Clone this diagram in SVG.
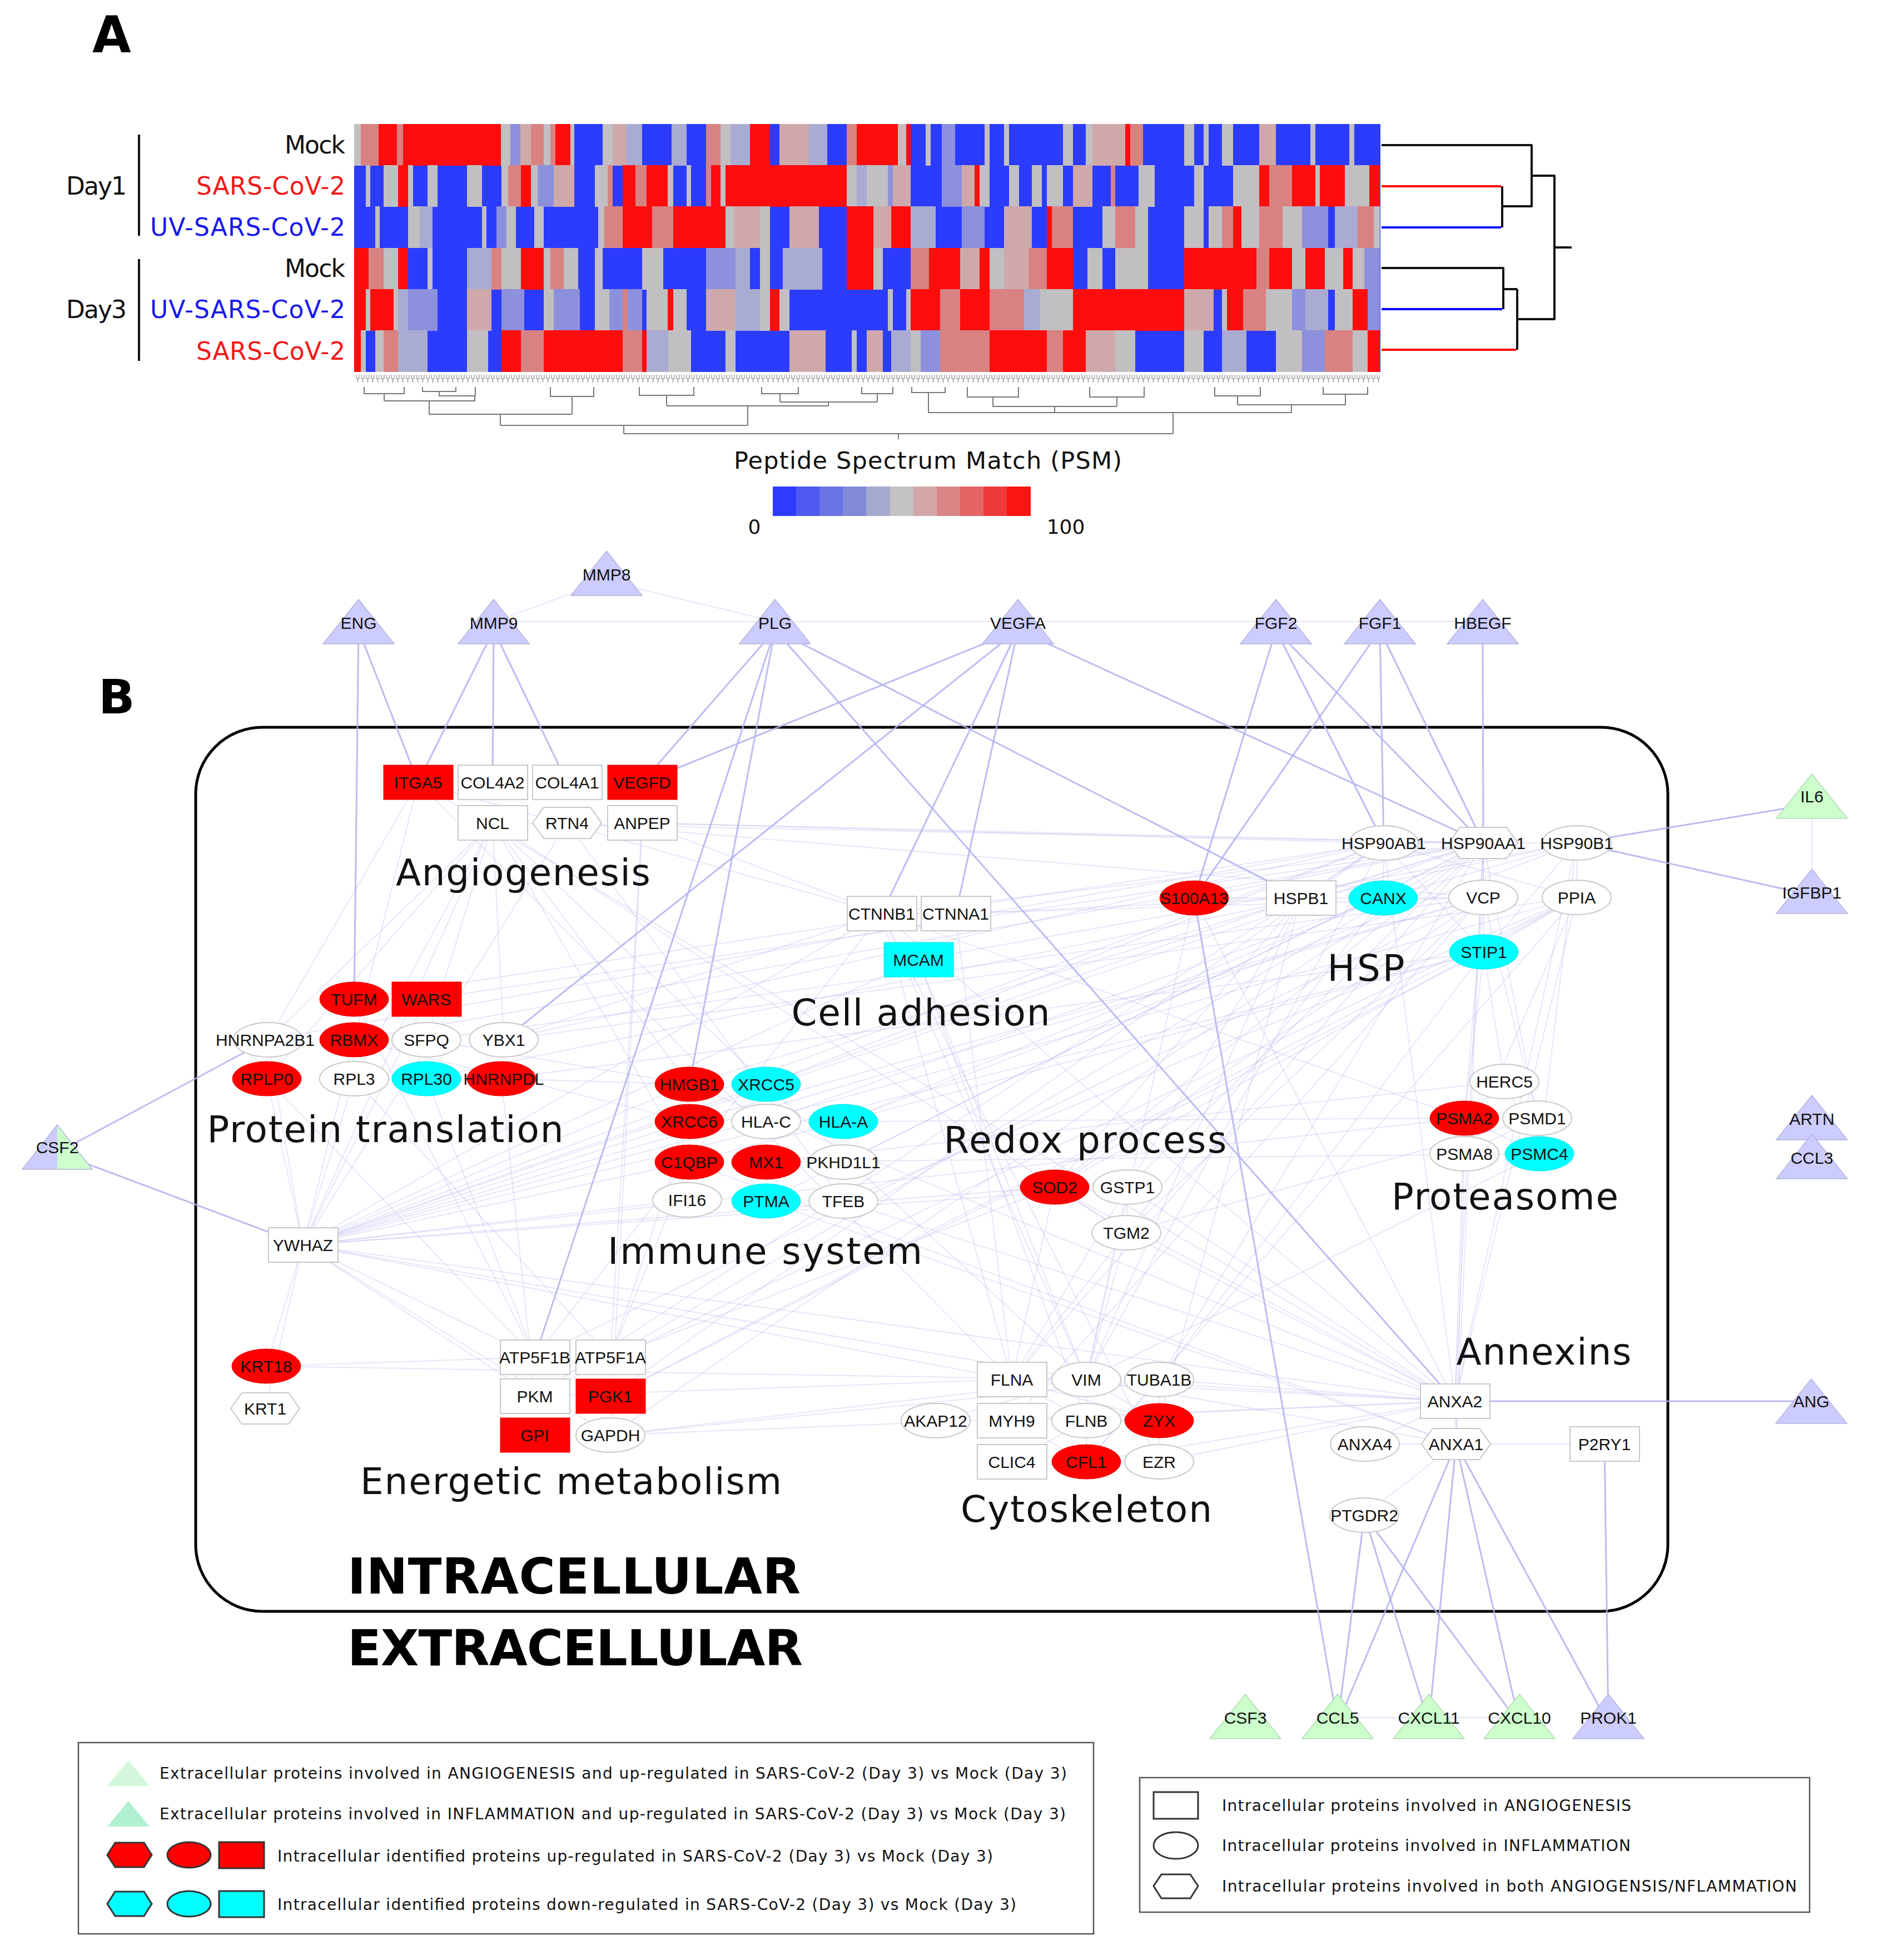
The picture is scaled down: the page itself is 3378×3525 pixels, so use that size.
<svg xmlns="http://www.w3.org/2000/svg" xmlns:xlink="http://www.w3.org/1999/xlink" width="3378" height="3525" viewBox="0 0 3378 3525">
<style>
.B{fill:#2b3cff}.R{fill:#ff0c0c}.G{fill:#c2bfc2}.lb{fill:#8d90dc}.lr{fill:#d98282}.gr{fill:#cfa9a9}.gb{fill:#a9abd2}
.s{stroke:#b0b0f0;stroke-opacity:.85;stroke-width:3;fill:none}
.f{stroke:#b8b8f0;stroke-opacity:.38;stroke-width:1.8}
.nw{fill:#fff;stroke:#c8c8c8;stroke-width:2}
.nr{fill:#f00;stroke:#e60000;stroke-width:1}
.nc{fill:#0ff;stroke:#00e6e6;stroke-width:1}
.lav{fill:#ccccff;stroke:#b4b4dc;stroke-width:1.5}
.grn{fill:#ccffcc;stroke:#b4d8b4;stroke-width:1.5}
.lbl{font-family:"Liberation Sans",Arial,sans-serif;font-size:30px;text-anchor:middle;fill:#111}
.grp{font-family:"DejaVu Sans",sans-serif;font-size:66px;text-anchor:middle;fill:#111}
.row{font-family:"DejaVu Sans",sans-serif;font-size:44px;text-anchor:end;fill:#111}
.leg{font-family:"DejaVu Sans",sans-serif;font-size:28px;fill:#111}
.big{font-family:"DejaVu Sans",sans-serif;font-weight:bold;fill:#000}
.dg{stroke:#777;stroke-width:2;fill:none}
.rd{stroke-width:4;fill:none;stroke-linejoin:round}
.ls{stroke:#333;stroke-width:3}
</style>
<defs>
<polygon id="hex" points="-62,0 -42,-28 42,-28 62,0 42,28 -42,28"/>
<polygon id="tri" points="0,-80 -64,0 64,0"/>
<pattern id="leaf" x="640" y="674" width="9" height="24" patternUnits="userSpaceOnUse">
<path d="M1 0V7H6V0M3.5 7V14" stroke="#777" stroke-width="1" fill="none"/>
</pattern>
</defs>
<rect width="3378" height="3525" fill="#fff"/>

<!-- Panel A -->
<text class="big" x="166" y="94" font-size="90">A</text>
<g id="row-labels">
<text class="row" x="621" y="276" textLength="109">Mock</text>
<text class="row" x="621" y="350" style="fill:#f01818" textLength="268">SARS-CoV-2</text>
<text class="row" x="621" y="424" style="fill:#1818f0" textLength="351">UV-SARS-CoV-2</text>
<text class="row" x="621" y="498" textLength="109">Mock</text>
<text class="row" x="621" y="572" style="fill:#1818f0" textLength="351">UV-SARS-CoV-2</text>
<text class="row" x="621" y="647" style="fill:#f01818" textLength="268">SARS-CoV-2</text>
<text class="row" x="228" y="350" textLength="109">Day1</text>
<text class="row" x="228" y="572" textLength="109">Day3</text>
<line x1="250" y1="242" x2="250" y2="424" stroke="#111" stroke-width="4"/>
<line x1="250" y1="466" x2="250" y2="649" stroke="#111" stroke-width="4"/>
</g>

<g id="heatmap" shape-rendering="crispEdges">
<rect x="637" y="223" width="1846" height="445.5" class="B"/>
<g transform="translate(637,0) scale(0.5887,1)">
<g transform="translate(0,223)">
<rect x="0" width="20" height="75" class="G"/><rect x="20" width="55" height="75" class="lr"/><rect x="75" width="55" height="75" class="R"/><rect x="130" width="20" height="75" class="lr"/><rect x="150" width="298" height="75" class="R"/><rect x="448" width="30" height="75" class="G"/><rect x="478" width="30" height="75" class="lb"/><rect x="508" width="32" height="75" class="gr"/><rect x="540" width="40" height="75" class="lr"/><rect x="580" width="20" height="75" class="G"/><rect x="600" width="15" height="75" class="lr"/><rect x="615" width="45" height="75" class="R"/><rect x="660" width="12" height="75" class="G"/><rect x="760" width="30" height="75" class="G"/><rect x="790" width="40" height="75" class="gr"/><rect x="830" width="50" height="75" class="gb"/><rect x="970" width="45" height="75" class="gb"/><rect x="1075" width="45" height="75" class="lr"/><rect x="1120" width="30" height="75" class="G"/><rect x="1150" width="60" height="75" class="gb"/><rect x="1210" width="60" height="75" class="R"/><rect x="1300" width="90" height="75" class="gr"/><rect x="1390" width="55" height="75" class="gb"/><rect x="1505" width="30" height="75" class="lr"/><rect x="1535" width="33" height="75" class="R"/>
</g>
<g transform="translate(0,297.2)">
<rect x="35" width="15" height="75" class="G"/><rect x="90" width="45" height="75" class="G"/><rect x="135" width="30" height="75" class="R"/><rect x="165" width="15" height="75" class="G"/><rect x="225" width="30" height="75" class="G"/><rect x="345" width="45" height="75" class="G"/><rect x="450" width="20" height="75" class="G"/><rect x="470" width="40" height="75" class="lr"/><rect x="510" width="30" height="75" class="R"/><rect x="540" width="20" height="75" class="G"/><rect x="560" width="50" height="75" class="lb"/><rect x="610" width="62" height="75" class="gr"/><rect x="735" width="40" height="75" class="G"/><rect x="775" width="15" height="75" class="lr"/><rect x="820" width="40" height="75" class="R"/><rect x="860" width="33" height="75" class="lr"/><rect x="893" width="65" height="75" class="R"/><rect x="958" width="17" height="75" class="G"/><rect x="1015" width="15" height="75" class="G"/><rect x="1075" width="15" height="75" class="lr"/><rect x="1090" width="30" height="75" class="R"/><rect x="1120" width="15" height="75" class="G"/><rect x="1135" width="370" height="75" class="R"/><rect x="1505" width="30" height="75" class="G"/><rect x="1535" width="33" height="75" class="gb"/>
</g>
<g transform="translate(0,371.4)">
<rect x="65" width="13" height="75" class="G"/><rect x="165" width="35" height="75" class="G"/><rect x="200" width="40" height="75" class="gb"/><rect x="390" width="15" height="75" class="G"/><rect x="435" width="30" height="75" class="lb"/><rect x="465" width="30" height="75" class="G"/><rect x="550" width="30" height="75" class="G"/><rect x="745" width="20" height="75" class="G"/><rect x="765" width="55" height="75" class="lr"/><rect x="820" width="90" height="75" class="R"/><rect x="910" width="65" height="75" class="lr"/><rect x="975" width="160" height="75" class="R"/><rect x="1135" width="25" height="75" class="G"/><rect x="1160" width="80" height="75" class="gr"/><rect x="1240" width="30" height="75" class="G"/><rect x="1330" width="90" height="75" class="gr"/><rect x="1505" width="63" height="75" class="R"/>
</g>
<g transform="translate(0,445.6)">
<rect x="0" width="45" height="75" class="R"/><rect x="45" width="45" height="75" class="lr"/><rect x="90" width="45" height="75" class="G"/><rect x="135" width="30" height="75" class="R"/><rect x="225" width="15" height="75" class="G"/><rect x="345" width="75" height="75" class="gb"/><rect x="420" width="30" height="75" class="lr"/><rect x="450" width="60" height="75" class="G"/><rect x="510" width="70" height="75" class="R"/><rect x="580" width="20" height="75" class="G"/><rect x="600" width="40" height="75" class="lr"/><rect x="640" width="45" height="75" class="G"/><rect x="735" width="25" height="75" class="G"/><rect x="880" width="65" height="75" class="G"/><rect x="1075" width="90" height="75" class="lb"/><rect x="1165" width="45" height="75" class="gb"/><rect x="1240" width="30" height="75" class="G"/><rect x="1310" width="120" height="75" class="gb"/><rect x="1505" width="63" height="75" class="R"/>
</g>
<g transform="translate(0,519.8)">
<rect x="0" width="35" height="75" class="R"/><rect x="35" width="15" height="75" class="G"/><rect x="50" width="70" height="75" class="R"/><rect x="120" width="15" height="75" class="G"/><rect x="135" width="30" height="75" class="gb"/><rect x="165" width="90" height="75" class="lb"/><rect x="345" width="75" height="75" class="gr"/><rect x="450" width="70" height="75" class="lb"/><rect x="580" width="30" height="75" class="G"/><rect x="610" width="80" height="75" class="lb"/><rect x="735" width="45" height="75" class="G"/><rect x="780" width="40" height="75" class="lb"/><rect x="820" width="15" height="75" class="lr"/><rect x="835" width="45" height="75" class="lb"/><rect x="893" width="65" height="75" class="G"/><rect x="958" width="17" height="75" class="R"/><rect x="975" width="40" height="75" class="G"/><rect x="1075" width="90" height="75" class="gr"/><rect x="1165" width="75" height="75" class="gb"/><rect x="1240" width="30" height="75" class="G"/><rect x="1270" width="30" height="75" class="R"/><rect x="1300" width="30" height="75" class="G"/>
</g>
<g transform="translate(0,594)">
<rect x="0" width="20" height="74.5" class="R"/><rect x="20" width="15" height="74.5" class="G"/><rect x="65" width="25" height="74.5" class="G"/><rect x="90" width="45" height="74.5" class="lr"/><rect x="135" width="90" height="74.5" class="gb"/><rect x="345" width="65" height="74.5" class="G"/><rect x="450" width="60" height="74.5" class="R"/><rect x="510" width="70" height="74.5" class="lr"/><rect x="580" width="240" height="74.5" class="R"/><rect x="820" width="60" height="74.5" class="lr"/><rect x="880" width="13" height="74.5" class="R"/><rect x="893" width="67" height="74.5" class="gb"/><rect x="960" width="70" height="74.5" class="G"/><rect x="1135" width="30" height="74.5" class="G"/><rect x="1330" width="110" height="74.5" class="gr"/><rect x="1520" width="15" height="74.5" class="G"/>
</g>
</g>
<g transform="translate(1559,0) scale(0.5887,1)">
<g transform="translate(0,223)">
<rect x="0" width="95" height="75" class="R"/><rect x="95" width="25" height="75" class="G"/><rect x="120" width="15" height="75" class="R"/><rect x="180" width="15" height="75" class="G"/><rect x="230" width="40" height="75" class="lb"/><rect x="360" width="15" height="75" class="G"/><rect x="420" width="15" height="75" class="G"/><rect x="600" width="30" height="75" class="G"/><rect x="670" width="20" height="75" class="G"/><rect x="690" width="100" height="75" class="gr"/><rect x="790" width="15" height="75" class="R"/><rect x="805" width="40" height="75" class="lr"/><rect x="970" width="30" height="75" class="G"/><rect x="1030" width="15" height="75" class="G"/><rect x="1085" width="35" height="75" class="G"/><rect x="1200" width="50" height="75" class="gr"/><rect x="1355" width="15" height="75" class="G"/><rect x="1475" width="15" height="75" class="G"/>
</g>
<g transform="translate(0,297.2)">
<rect x="0" width="65" height="75" class="G"/><rect x="65" width="15" height="75" class="lb"/><rect x="80" width="55" height="75" class="gr"/><rect x="230" width="60" height="75" class="lb"/><rect x="290" width="40" height="75" class="gr"/><rect x="330" width="15" height="75" class="R"/><rect x="345" width="30" height="75" class="G"/><rect x="435" width="30" height="75" class="G"/><rect x="505" width="30" height="75" class="G"/><rect x="550" width="50" height="75" class="G"/><rect x="630" width="60" height="75" class="gr"/><rect x="745" width="15" height="75" class="lr"/><rect x="830" width="50" height="75" class="G"/><rect x="1000" width="30" height="75" class="G"/><rect x="1120" width="80" height="75" class="G"/><rect x="1200" width="30" height="75" class="R"/><rect x="1230" width="70" height="75" class="lr"/><rect x="1300" width="70" height="75" class="R"/><rect x="1370" width="15" height="75" class="G"/><rect x="1385" width="75" height="75" class="R"/><rect x="1460" width="75" height="75" class="G"/><rect x="1535" width="33" height="75" class="R"/>
</g>
<g transform="translate(0,371.4)">
<rect x="0" width="20" height="75" class="R"/><rect x="20" width="55" height="75" class="gr"/><rect x="75" width="60" height="75" class="R"/><rect x="135" width="75" height="75" class="gb"/><rect x="290" width="70" height="75" class="lb"/><rect x="420" width="85" height="75" class="gr"/><rect x="550" width="15" height="75" class="R"/><rect x="565" width="65" height="75" class="lr"/><rect x="720" width="40" height="75" class="G"/><rect x="760" width="60" height="75" class="lr"/><rect x="820" width="40" height="75" class="G"/><rect x="970" width="60" height="75" class="G"/><rect x="1045" width="40" height="75" class="G"/><rect x="1085" width="35" height="75" class="lr"/><rect x="1120" width="25" height="75" class="R"/><rect x="1145" width="55" height="75" class="G"/><rect x="1200" width="70" height="75" class="lr"/><rect x="1270" width="60" height="75" class="G"/><rect x="1330" width="80" height="75" class="lb"/><rect x="1430" width="70" height="75" class="gb"/><rect x="1500" width="50" height="75" class="lr"/><rect x="1550" width="18" height="75" class="G"/>
</g>
<g transform="translate(0,445.6)">
<rect x="0" width="20" height="75" class="R"/><rect x="20" width="30" height="75" class="G"/><rect x="135" width="55" height="75" class="lr"/><rect x="190" width="95" height="75" class="R"/><rect x="285" width="60" height="75" class="gr"/><rect x="345" width="30" height="75" class="R"/><rect x="375" width="45" height="75" class="G"/><rect x="420" width="75" height="75" class="gr"/><rect x="495" width="55" height="75" class="lr"/><rect x="550" width="80" height="75" class="R"/><rect x="675" width="45" height="75" class="G"/><rect x="760" width="100" height="75" class="G"/><rect x="970" width="220" height="75" class="R"/><rect x="1190" width="40" height="75" class="lr"/><rect x="1230" width="70" height="75" class="R"/><rect x="1300" width="40" height="75" class="G"/><rect x="1340" width="60" height="75" class="R"/><rect x="1400" width="55" height="75" class="G"/><rect x="1455" width="30" height="75" class="R"/><rect x="1485" width="35" height="75" class="G"/><rect x="1520" width="48" height="75" class="lb"/>
</g>
<g transform="translate(0,519.8)">
<rect x="65" width="15" height="75" class="G"/><rect x="120" width="15" height="75" class="G"/><rect x="135" width="90" height="75" class="R"/><rect x="225" width="60" height="75" class="lr"/><rect x="285" width="90" height="75" class="R"/><rect x="375" width="105" height="75" class="lr"/><rect x="480" width="50" height="75" class="gb"/><rect x="530" width="100" height="75" class="G"/><rect x="630" width="340" height="75" class="R"/><rect x="970" width="90" height="75" class="gr"/><rect x="1085" width="15" height="75" class="G"/><rect x="1100" width="50" height="75" class="R"/><rect x="1150" width="70" height="75" class="lr"/><rect x="1220" width="80" height="75" class="G"/><rect x="1300" width="40" height="75" class="lb"/><rect x="1340" width="70" height="75" class="gb"/><rect x="1430" width="55" height="75" class="G"/><rect x="1485" width="45" height="75" class="R"/><rect x="1530" width="38" height="75" class="lb"/>
</g>
<g transform="translate(0,594)">
<rect x="0" width="50" height="74.5" class="gr"/><rect x="75" width="60" height="74.5" class="gb"/><rect x="135" width="30" height="74.5" class="G"/><rect x="165" width="60" height="74.5" class="lb"/><rect x="225" width="150" height="74.5" class="lr"/><rect x="375" width="175" height="74.5" class="R"/><rect x="550" width="50" height="74.5" class="lr"/><rect x="600" width="70" height="74.5" class="R"/><rect x="670" width="90" height="74.5" class="gr"/><rect x="760" width="60" height="74.5" class="G"/><rect x="970" width="60" height="74.5" class="G"/><rect x="1085" width="75" height="74.5" class="gb"/><rect x="1250" width="80" height="74.5" class="G"/><rect x="1330" width="70" height="74.5" class="lb"/><rect x="1400" width="85" height="74.5" class="lr"/><rect x="1485" width="45" height="74.5" class="G"/><rect x="1530" width="38" height="74.5" class="R"/>
</g>
</g>
</g>

<g id="row-dendrogram">
<path class="rd" stroke="#111" d="M2485 261H2755V371H2702M2702 335V409M2755 316H2796V574H2729M2729 520V629M2704 520H2729M2485 482H2704V556M2796 445H2827"/>
<path class="rd" stroke="#f00" d="M2485 335H2700M2485 629H2727"/>
<path class="rd" stroke="#00f" d="M2485 409H2700M2485 556H2702"/>
</g>

<g id="column-dendrogram">
<rect x="640" y="674" width="1842" height="22" fill="url(#leaf)"/>
<path class="dg" d="M655 696V708H727V696M691 708V721M760 696V704H820V696M855 696V702M790 704V712H855V702M691 721H854V712M772 721V745M990 696V713H1068V696M1029 713V745M772 745H1029M900 745V765M1150 696V711H1248V696M1199 711V730M1370 696V708H1436V696M1403 708V723M1550 696V708H1606V696M1578 708V723M1403 723H1578M1490 723V730M1199 730H1490M1345 730V765M900 765H1345M1122 765V780M1740 696V714H1832V696M1960 696V714H2058V696M1786 714V731M2009 714V731M1786 731H2009M1897 731V742M2185 696V712H2267V696M2380 696V709H2460V696M2226 712V728M2420 709V728M2226 728H2420M2323 728V742M1897 742H2323M2110 742V780M1122 780H2110M1616 780V790M1640 696V706H1700V696M1670 706V742H1897"/>
</g>

<g id="colorbar">
<text x="1669" y="843" font-family="DejaVu Sans,sans-serif" font-size="43" text-anchor="middle" fill="#111" textLength="698">Peptide Spectrum Match (PSM)</text>
<rect x="1390" y="875" width="43" height="53" fill="#2e3cff"/>
<rect x="1432" y="875" width="43" height="53" fill="#4e5af0"/>
<rect x="1474" y="875" width="43" height="53" fill="#6a74e4"/>
<rect x="1516" y="875" width="43" height="53" fill="#8389d9"/>
<rect x="1558" y="875" width="43" height="53" fill="#a5a9d0"/>
<rect x="1601" y="875" width="43" height="53" fill="#c4c2c4"/>
<rect x="1643" y="875" width="43" height="53" fill="#d2a6a6"/>
<rect x="1685" y="875" width="43" height="53" fill="#da8686"/>
<rect x="1727" y="875" width="43" height="53" fill="#e46464"/>
<rect x="1769" y="875" width="43" height="53" fill="#ee3a3a"/>
<rect x="1811" y="875" width="43" height="53" fill="#fc1414"/>
<text x="1357" y="960" font-family="DejaVu Sans,sans-serif" font-size="36" text-anchor="middle" fill="#111">0</text>
<text x="1917" y="960" font-family="DejaVu Sans,sans-serif" font-size="36" text-anchor="middle" fill="#111">100</text>
</g>

<!-- Panel B -->
<text class="big" x="177" y="1283" font-size="86">B</text>
<rect id="cell-membrane" x="352" y="1308" width="2648" height="1590" rx="120" ry="120" fill="none" stroke="#000" stroke-width="5"/>

<g id="connectors">
<g id="faint-edges" class="f">
<line x1="888" y1="1118" x2="2667" y2="1118"/>
<line x1="1091" y1="1045" x2="888" y2="1118"/>
<line x1="1091" y1="1045" x2="1394" y2="1118"/>
<line x1="3259" y1="1471" x2="3259" y2="1562"/>
<line x1="2406" y1="3089" x2="2733" y2="3089"/>
<line x1="886" y1="1480" x2="637" y2="1940"/>
<line x1="886" y1="1480" x2="480" y2="1940"/>
<line x1="886" y1="1480" x2="482" y2="1870"/>
<line x1="886" y1="1480" x2="906" y2="1870"/>
<line x1="886" y1="1480" x2="767" y2="1870"/>
<line x1="886" y1="1480" x2="1240" y2="1950"/>
<line x1="886" y1="1480" x2="1378" y2="1950"/>
<line x1="886" y1="1480" x2="1240" y2="2090"/>
<line x1="886" y1="1480" x2="2668" y2="1516"/>
<line x1="886" y1="1480" x2="545" y2="2239"/>
<line x1="886" y1="1480" x2="2026" y2="2217"/>
<line x1="752" y1="1407" x2="545" y2="2239"/>
<line x1="752" y1="1407" x2="1820" y2="2481"/>
<line x1="752" y1="1407" x2="1586" y2="1643"/>
<line x1="752" y1="1407" x2="2617" y2="2520"/>
<line x1="752" y1="1407" x2="482" y2="1870"/>
<line x1="1155" y1="1480" x2="2668" y2="1516"/>
<line x1="1155" y1="1480" x2="1586" y2="1643"/>
<line x1="1155" y1="1480" x2="1098" y2="2441"/>
<line x1="1155" y1="1480" x2="1098" y2="2581"/>
<line x1="1155" y1="1480" x2="2489" y2="1516"/>
<line x1="1020" y1="1480" x2="545" y2="2239"/>
<line x1="1020" y1="1480" x2="1517" y2="2160"/>
<line x1="1020" y1="1480" x2="2668" y2="1614"/>
<line x1="482" y1="1870" x2="2489" y2="1516"/>
<line x1="637" y1="1870" x2="2668" y2="1516"/>
<line x1="767" y1="1870" x2="2668" y2="1614"/>
<line x1="906" y1="1870" x2="2489" y2="1516"/>
<line x1="906" y1="1870" x2="1586" y2="1643"/>
<line x1="906" y1="1870" x2="2836" y2="1614"/>
<line x1="637" y1="1940" x2="545" y2="2239"/>
<line x1="480" y1="1940" x2="545" y2="2239"/>
<line x1="767" y1="1940" x2="962" y2="2441"/>
<line x1="902" y1="1940" x2="1240" y2="1950"/>
<line x1="637" y1="1797" x2="962" y2="2441"/>
<line x1="767" y1="1797" x2="545" y2="2239"/>
<line x1="767" y1="1797" x2="2668" y2="1516"/>
<line x1="637" y1="1940" x2="1098" y2="2441"/>
<line x1="480" y1="1940" x2="962" y2="2441"/>
<line x1="482" y1="1870" x2="545" y2="2239"/>
<line x1="767" y1="1870" x2="1240" y2="1950"/>
<line x1="637" y1="1870" x2="1240" y2="2017"/>
<line x1="902" y1="1940" x2="962" y2="2511"/>
<line x1="637" y1="1797" x2="2489" y2="1516"/>
<line x1="767" y1="1940" x2="2836" y2="1516"/>
<line x1="902" y1="1940" x2="2669" y2="1712"/>
<line x1="545" y1="2239" x2="479" y2="2457"/>
<line x1="545" y1="2239" x2="477" y2="2533"/>
<line x1="545" y1="2239" x2="962" y2="2441"/>
<line x1="545" y1="2239" x2="962" y2="2511"/>
<line x1="545" y1="2239" x2="1098" y2="2581"/>
<line x1="545" y1="2239" x2="1240" y2="1950"/>
<line x1="545" y1="2239" x2="1240" y2="2017"/>
<line x1="545" y1="2239" x2="1586" y2="1643"/>
<line x1="545" y1="2239" x2="2489" y2="1516"/>
<line x1="545" y1="2239" x2="2668" y2="1516"/>
<line x1="545" y1="2239" x2="2668" y2="1614"/>
<line x1="545" y1="2239" x2="2669" y2="1712"/>
<line x1="545" y1="2239" x2="1820" y2="2481"/>
<line x1="545" y1="2239" x2="1954" y2="2481"/>
<line x1="545" y1="2239" x2="1897" y2="2135"/>
<line x1="545" y1="2239" x2="2617" y2="2520"/>
<line x1="545" y1="2239" x2="2634" y2="2011"/>
<line x1="545" y1="2239" x2="1652" y2="1726"/>
<line x1="545" y1="2239" x2="2340" y2="1615"/>
<line x1="545" y1="2239" x2="2836" y2="1614"/>
<line x1="545" y1="2239" x2="2028" y2="2135"/>
<line x1="545" y1="2239" x2="1240" y2="2090"/>
<line x1="545" y1="2239" x2="1236" y2="2158"/>
<line x1="479" y1="2457" x2="1954" y2="2481"/>
<line x1="479" y1="2457" x2="962" y2="2441"/>
<line x1="1098" y1="2441" x2="2668" y2="1516"/>
<line x1="962" y1="2441" x2="2668" y2="1614"/>
<line x1="962" y1="2511" x2="2489" y2="1516"/>
<line x1="962" y1="2511" x2="2836" y2="1614"/>
<line x1="1098" y1="2581" x2="2668" y2="1516"/>
<line x1="1098" y1="2581" x2="1954" y2="2481"/>
<line x1="1098" y1="2581" x2="2617" y2="2520"/>
<line x1="1098" y1="2511" x2="2836" y2="1614"/>
<line x1="962" y1="2581" x2="2669" y2="1712"/>
<line x1="1098" y1="2511" x2="2489" y2="1516"/>
<line x1="1098" y1="2441" x2="1897" y2="2135"/>
<line x1="962" y1="2511" x2="1820" y2="2481"/>
<line x1="1098" y1="2581" x2="2085" y2="2481"/>
<line x1="962" y1="2441" x2="1586" y2="1643"/>
<line x1="1240" y1="1950" x2="2668" y2="1516"/>
<line x1="1378" y1="1950" x2="2489" y2="1516"/>
<line x1="1240" y1="2017" x2="2668" y2="1614"/>
<line x1="1517" y1="2017" x2="2488" y2="1615"/>
<line x1="1378" y1="2017" x2="2488" y2="1615"/>
<line x1="1517" y1="2017" x2="2836" y2="1516"/>
<line x1="1240" y1="2090" x2="2669" y2="1712"/>
<line x1="1378" y1="2090" x2="2706" y2="1945"/>
<line x1="1378" y1="2160" x2="2668" y2="1516"/>
<line x1="1517" y1="2160" x2="2836" y2="1614"/>
<line x1="1517" y1="2017" x2="2634" y2="2011"/>
<line x1="1378" y1="1950" x2="1954" y2="2481"/>
<line x1="1240" y1="1950" x2="2617" y2="2520"/>
<line x1="1240" y1="2090" x2="2619" y2="2597"/>
<line x1="1378" y1="2160" x2="2619" y2="2597"/>
<line x1="1378" y1="2090" x2="2769" y2="2075"/>
<line x1="1240" y1="2017" x2="1098" y2="2441"/>
<line x1="1240" y1="2090" x2="1098" y2="2441"/>
<line x1="1517" y1="2090" x2="2668" y2="1516"/>
<line x1="1517" y1="2160" x2="2617" y2="2520"/>
<line x1="1586" y1="1643" x2="2668" y2="1516"/>
<line x1="1586" y1="1643" x2="1954" y2="2481"/>
<line x1="1586" y1="1643" x2="1820" y2="2481"/>
<line x1="1719" y1="1643" x2="1820" y2="2481"/>
<line x1="1719" y1="1643" x2="2340" y2="1615"/>
<line x1="1586" y1="1643" x2="2617" y2="2520"/>
<line x1="1652" y1="1726" x2="1954" y2="2481"/>
<line x1="1652" y1="1726" x2="2836" y2="1516"/>
<line x1="1719" y1="1643" x2="2668" y2="1614"/>
<line x1="1652" y1="1726" x2="1954" y2="2555"/>
<line x1="1586" y1="1643" x2="2085" y2="2629"/>
<line x1="1586" y1="1643" x2="2634" y2="2011"/>
<line x1="2489" y1="1516" x2="2668" y2="1516"/>
<line x1="2668" y1="1516" x2="2836" y2="1516"/>
<line x1="2489" y1="1516" x2="2488" y2="1615"/>
<line x1="2668" y1="1516" x2="2668" y2="1614"/>
<line x1="2836" y1="1516" x2="2836" y2="1614"/>
<line x1="2668" y1="1516" x2="2669" y2="1712"/>
<line x1="2489" y1="1516" x2="2669" y2="1712"/>
<line x1="2836" y1="1516" x2="2669" y2="1712"/>
<line x1="2836" y1="1614" x2="2669" y2="1712"/>
<line x1="2340" y1="1615" x2="2668" y2="1516"/>
<line x1="2340" y1="1615" x2="2668" y2="1614"/>
<line x1="2488" y1="1615" x2="2836" y2="1516"/>
<line x1="2148" y1="1615" x2="2340" y2="1615"/>
<line x1="2489" y1="1516" x2="2340" y2="1615"/>
<line x1="2148" y1="1615" x2="2668" y2="1516"/>
<line x1="2668" y1="1614" x2="2634" y2="2011"/>
<line x1="2668" y1="1614" x2="2765" y2="2011"/>
<line x1="2669" y1="1712" x2="2706" y2="1945"/>
<line x1="2669" y1="1712" x2="2634" y2="2011"/>
<line x1="2668" y1="1516" x2="2765" y2="2011"/>
<line x1="2836" y1="1614" x2="2634" y2="2075"/>
<line x1="2836" y1="1516" x2="2769" y2="2075"/>
<line x1="2668" y1="1516" x2="2617" y2="2520"/>
<line x1="2489" y1="1516" x2="2617" y2="2520"/>
<line x1="2668" y1="1516" x2="2619" y2="2597"/>
<line x1="2489" y1="1516" x2="1954" y2="2481"/>
<line x1="2668" y1="1516" x2="1820" y2="2481"/>
<line x1="2668" y1="1516" x2="2085" y2="2481"/>
<line x1="2668" y1="1516" x2="1897" y2="2135"/>
<line x1="2668" y1="1516" x2="2028" y2="2135"/>
<line x1="2668" y1="1614" x2="1897" y2="2135"/>
<line x1="2836" y1="1614" x2="1897" y2="2135"/>
<line x1="2668" y1="1614" x2="2026" y2="2217"/>
<line x1="2836" y1="1516" x2="2617" y2="2520"/>
<line x1="2836" y1="1614" x2="2617" y2="2520"/>
<line x1="2669" y1="1712" x2="2085" y2="2481"/>
<line x1="2340" y1="1615" x2="1820" y2="2481"/>
<line x1="2340" y1="1615" x2="1954" y2="2481"/>
<line x1="2340" y1="1615" x2="1897" y2="2135"/>
<line x1="2488" y1="1615" x2="2026" y2="2217"/>
<line x1="2668" y1="1614" x2="1820" y2="2555"/>
<line x1="2836" y1="1614" x2="1954" y2="2629"/>
<line x1="2340" y1="1615" x2="2085" y2="2555"/>
<line x1="2148" y1="1615" x2="2617" y2="2520"/>
<line x1="2148" y1="1615" x2="1954" y2="2481"/>
<line x1="2489" y1="1516" x2="2836" y2="1614"/>
<line x1="2706" y1="1945" x2="2634" y2="2011"/>
<line x1="2706" y1="1945" x2="2769" y2="2075"/>
<line x1="2634" y1="2011" x2="2769" y2="2075"/>
<line x1="2765" y1="2011" x2="2634" y2="2075"/>
<line x1="2634" y1="2011" x2="2617" y2="2520"/>
<line x1="2769" y1="2075" x2="1954" y2="2481"/>
<line x1="2765" y1="2011" x2="2026" y2="2217"/>
<line x1="2634" y1="2075" x2="2619" y2="2597"/>
<line x1="2028" y1="2135" x2="2026" y2="2217"/>
<line x1="1897" y1="2135" x2="2026" y2="2217"/>
<line x1="2028" y1="2135" x2="1954" y2="2481"/>
<line x1="2026" y1="2217" x2="1954" y2="2481"/>
<line x1="2026" y1="2217" x2="1820" y2="2481"/>
<line x1="1897" y1="2135" x2="2617" y2="2520"/>
<line x1="2028" y1="2135" x2="2617" y2="2520"/>
<line x1="2026" y1="2217" x2="2617" y2="2520"/>
<line x1="1897" y1="2135" x2="1820" y2="2481"/>
<line x1="1820" y1="2481" x2="1954" y2="2555"/>
<line x1="1820" y1="2481" x2="2085" y2="2555"/>
<line x1="1954" y1="2481" x2="1954" y2="2629"/>
<line x1="1820" y1="2555" x2="1954" y2="2629"/>
<line x1="2085" y1="2481" x2="1954" y2="2629"/>
<line x1="2085" y1="2629" x2="2617" y2="2520"/>
<line x1="1954" y1="2481" x2="2617" y2="2520"/>
<line x1="1820" y1="2555" x2="2617" y2="2520"/>
<line x1="1820" y1="2481" x2="2617" y2="2520"/>
<line x1="1954" y1="2629" x2="2617" y2="2520"/>
<line x1="2085" y1="2481" x2="2617" y2="2520"/>
<line x1="1954" y1="2481" x2="2619" y2="2597"/>
<line x1="1683" y1="2555" x2="1954" y2="2481"/>
<line x1="2085" y1="2481" x2="2085" y2="2629"/>
<line x1="1820" y1="2629" x2="1954" y2="2555"/>
<line x1="1954" y1="2481" x2="2085" y2="2555"/>
<line x1="2617" y1="2520" x2="2619" y2="2597"/>
<line x1="2455" y1="2597" x2="2619" y2="2597"/>
<line x1="2619" y1="2597" x2="2886" y2="2597"/>
<line x1="2619" y1="2597" x2="2454" y2="2725"/>
<line x1="2455" y1="2597" x2="2617" y2="2520"/>
</g>
<g id="strong-edges" class="s">
<line x1="645" y1="1133" x2="637" y2="1797"/>
<line x1="645" y1="1133" x2="752" y2="1407"/>
<line x1="888" y1="1133" x2="752" y2="1407"/>
<line x1="888" y1="1133" x2="886" y2="1407"/>
<line x1="888" y1="1133" x2="1020" y2="1407"/>
<line x1="1394" y1="1133" x2="1155" y2="1407"/>
<line x1="1394" y1="1133" x2="1240" y2="1950"/>
<line x1="1394" y1="1133" x2="962" y2="2441"/>
<line x1="1394" y1="1133" x2="2617" y2="2520"/>
<line x1="1394" y1="1133" x2="2340" y2="1615"/>
<line x1="1831" y1="1133" x2="1155" y2="1407"/>
<line x1="1831" y1="1133" x2="906" y2="1870"/>
<line x1="1831" y1="1133" x2="1586" y2="1643"/>
<line x1="1831" y1="1133" x2="1719" y2="1643"/>
<line x1="1831" y1="1133" x2="2668" y2="1516"/>
<line x1="2295" y1="1133" x2="2148" y2="1615"/>
<line x1="2295" y1="1133" x2="2489" y2="1516"/>
<line x1="2295" y1="1133" x2="2668" y2="1516"/>
<line x1="2482" y1="1133" x2="2148" y2="1615"/>
<line x1="2482" y1="1133" x2="2489" y2="1516"/>
<line x1="2482" y1="1133" x2="2668" y2="1516"/>
<line x1="2667" y1="1133" x2="2668" y2="1516"/>
<line x1="3259" y1="1446" x2="2836" y2="1516"/>
<line x1="3259" y1="1610" x2="2836" y2="1516"/>
<line x1="103" y1="2073" x2="482" y2="1870"/>
<line x1="103" y1="2073" x2="545" y2="2239"/>
<line x1="3258" y1="2520" x2="2617" y2="2520"/>
<line x1="2148" y1="1615" x2="2406" y2="3100"/>
<line x1="2619" y1="2597" x2="2406" y2="3100"/>
<line x1="2619" y1="2597" x2="2570" y2="3100"/>
<line x1="2619" y1="2597" x2="2733" y2="3100"/>
<line x1="2619" y1="2597" x2="2893" y2="3100"/>
<line x1="2454" y1="2725" x2="2406" y2="3100"/>
<line x1="2454" y1="2725" x2="2570" y2="3100"/>
<line x1="2454" y1="2725" x2="2733" y2="3100"/>
<line x1="2886" y1="2597" x2="2893" y2="3100"/>
</g>
</g>

<g id="nodes">
<g id="n-MMP8"><use href="#tri" x="1091" y="1071" class="lav"/><text class="lbl" x="1091" y="1044">MMP8</text></g>
<g id="n-ENG"><use href="#tri" x="645" y="1158" class="lav"/><text class="lbl" x="645" y="1131">ENG</text></g>
<g id="n-MMP9"><use href="#tri" x="888" y="1158" class="lav"/><text class="lbl" x="888" y="1131">MMP9</text></g>
<g id="n-PLG"><use href="#tri" x="1394" y="1158" class="lav"/><text class="lbl" x="1394" y="1131">PLG</text></g>
<g id="n-VEGFA"><use href="#tri" x="1831" y="1158" class="lav"/><text class="lbl" x="1831" y="1131">VEGFA</text></g>
<g id="n-FGF2"><use href="#tri" x="2295" y="1158" class="lav"/><text class="lbl" x="2295" y="1131">FGF2</text></g>
<g id="n-FGF1"><use href="#tri" x="2482" y="1158" class="lav"/><text class="lbl" x="2482" y="1131">FGF1</text></g>
<g id="n-HBEGF"><use href="#tri" x="2667" y="1158" class="lav"/><text class="lbl" x="2667" y="1131">HBEGF</text></g>
<g id="n-IL6"><use href="#tri" x="3259" y="1472" class="grn"/><text class="lbl" x="3259" y="1443">IL6</text></g>
<g id="n-IGFBP1"><use href="#tri" x="3259" y="1643" class="lav"/><text class="lbl" x="3259" y="1616">IGFBP1</text></g>
<g id="n-ARTN"><use href="#tri" x="3259" y="2050" class="lav"/><text class="lbl" x="3259" y="2023">ARTN</text></g>
<g id="n-CCL3"><use href="#tri" x="3259" y="2120" class="lav"/><text class="lbl" x="3259" y="2093">CCL3</text></g>
<g id="n-ANG"><use href="#tri" x="3258" y="2560" class="lav"/><text class="lbl" x="3258" y="2531">ANG</text></g>
<g id="n-CSF2"><polygon points="103,2023 40,2103 103,2103" fill="#ccccff"/><polygon points="103,2023 166,2103 103,2103" fill="#ccffcc"/><polygon points="103,2023 40,2103 166,2103" fill="none" stroke="#b4b4dc" stroke-width="1.5"/><text class="lbl" x="103" y="2074">CSF2</text></g>
<g id="n-CSF3"><use href="#tri" x="2240" y="3127" class="grn"/><text class="lbl" x="2240" y="3100">CSF3</text></g>
<g id="n-CCL5"><use href="#tri" x="2406" y="3127" class="grn"/><text class="lbl" x="2406" y="3100">CCL5</text></g>
<g id="n-CXCL11"><use href="#tri" x="2570" y="3127" class="grn"/><text class="lbl" x="2570" y="3100">CXCL11</text></g>
<g id="n-CXCL10"><use href="#tri" x="2733" y="3127" class="grn"/><text class="lbl" x="2733" y="3100">CXCL10</text></g>
<g id="n-PROK1"><use href="#tri" x="2893" y="3127" class="lav"/><text class="lbl" x="2893" y="3100">PROK1</text></g>

<g id="n-ITGA5"><rect x="690" y="1376" width="125" height="62" class="nr"/><text class="lbl" x="752" y="1418">ITGA5</text></g>
<g id="n-COL4A2"><rect x="824" y="1376" width="125" height="62" class="nw"/><text class="lbl" x="886" y="1418">COL4A2</text></g>
<g id="n-COL4A1"><rect x="958" y="1376" width="125" height="62" class="nw"/><text class="lbl" x="1020" y="1418">COL4A1</text></g>
<g id="n-VEGFD"><rect x="1093" y="1376" width="125" height="62" class="nr"/><text class="lbl" x="1155" y="1418">VEGFD</text></g>
<g id="n-NCL"><rect x="824" y="1449" width="125" height="62" class="nw"/><text class="lbl" x="886" y="1491">NCL</text></g>
<g id="n-RTN4"><use href="#hex" x="1020" y="1480" class="nw"/><text class="lbl" x="1020" y="1491">RTN4</text></g>
<g id="n-ANPEP"><rect x="1093" y="1449" width="125" height="62" class="nw"/><text class="lbl" x="1155" y="1491">ANPEP</text></g>

<g id="n-TUFM"><ellipse cx="637" cy="1797" rx="62" ry="31" class="nr"/><text class="lbl" x="637" y="1808">TUFM</text></g>
<g id="n-WARS"><rect x="705" y="1766" width="125" height="62" class="nr"/><text class="lbl" x="767" y="1808">WARS</text></g>
<g id="n-HNRNPA2B1"><ellipse cx="482" cy="1870" rx="62" ry="31" class="nw"/><text class="lbl" x="477" y="1881">HNRNPA2B1</text></g>
<g id="n-RBMX"><ellipse cx="637" cy="1870" rx="62" ry="31" class="nr"/><text class="lbl" x="637" y="1881">RBMX</text></g>
<g id="n-SFPQ"><ellipse cx="767" cy="1870" rx="62" ry="31" class="nw"/><text class="lbl" x="767" y="1881">SFPQ</text></g>
<g id="n-YBX1"><ellipse cx="906" cy="1870" rx="62" ry="31" class="nw"/><text class="lbl" x="906" y="1881">YBX1</text></g>
<g id="n-RPLP0"><ellipse cx="480" cy="1940" rx="62" ry="31" class="nr"/><text class="lbl" x="480" y="1951">RPLP0</text></g>
<g id="n-RPL3"><ellipse cx="637" cy="1940" rx="62" ry="31" class="nw"/><text class="lbl" x="637" y="1951">RPL3</text></g>
<g id="n-RPL30"><ellipse cx="767" cy="1940" rx="62" ry="31" class="nc"/><text class="lbl" x="767" y="1951">RPL30</text></g>
<g id="n-HNRNPDL"><ellipse cx="902" cy="1940" rx="62" ry="31" class="nr"/><text class="lbl" x="906" y="1951">HNRNPDL</text></g>
<g id="n-YWHAZ"><rect x="483" y="2208" width="125" height="62" class="nw"/><text class="lbl" x="545" y="2250">YWHAZ</text></g>
<g id="n-KRT18"><ellipse cx="479" cy="2457" rx="62" ry="31" class="nr"/><text class="lbl" x="479" y="2468">KRT18</text></g>
<g id="n-KRT1"><use href="#hex" x="477" y="2533" class="nw"/><text class="lbl" x="477" y="2544">KRT1</text></g>

<g id="n-ATP5F1B"><rect x="900" y="2410" width="125" height="62" class="nw"/><text class="lbl" x="962" y="2452">ATP5F1B</text></g>
<g id="n-ATP5F1A"><rect x="1036" y="2410" width="125" height="62" class="nw"/><text class="lbl" x="1098" y="2452">ATP5F1A</text></g>
<g id="n-PKM"><rect x="900" y="2480" width="125" height="62" class="nw"/><text class="lbl" x="962" y="2522">PKM</text></g>
<g id="n-PGK1"><rect x="1036" y="2480" width="125" height="62" class="nr"/><text class="lbl" x="1098" y="2522">PGK1</text></g>
<g id="n-GPI"><rect x="900" y="2550" width="125" height="62" class="nr"/><text class="lbl" x="962" y="2592">GPI</text></g>
<g id="n-GAPDH"><ellipse cx="1098" cy="2581" rx="62" ry="31" class="nw"/><text class="lbl" x="1098" y="2592">GAPDH</text></g>

<g id="n-HMGB1"><ellipse cx="1240" cy="1950" rx="62" ry="31" class="nr"/><text class="lbl" x="1240" y="1961">HMGB1</text></g>
<g id="n-XRCC5"><ellipse cx="1378" cy="1950" rx="62" ry="31" class="nc"/><text class="lbl" x="1378" y="1961">XRCC5</text></g>
<g id="n-XRCC6"><ellipse cx="1240" cy="2017" rx="62" ry="31" class="nr"/><text class="lbl" x="1240" y="2028">XRCC6</text></g>
<g id="n-HLA-C"><ellipse cx="1378" cy="2017" rx="62" ry="31" class="nw"/><text class="lbl" x="1378" y="2028">HLA-C</text></g>
<g id="n-HLA-A"><ellipse cx="1517" cy="2017" rx="62" ry="31" class="nc"/><text class="lbl" x="1517" y="2028">HLA-A</text></g>
<g id="n-C1QBP"><ellipse cx="1240" cy="2090" rx="62" ry="31" class="nr"/><text class="lbl" x="1240" y="2101">C1QBP</text></g>
<g id="n-MX1"><ellipse cx="1378" cy="2090" rx="62" ry="31" class="nr"/><text class="lbl" x="1378" y="2101">MX1</text></g>
<g id="n-PKHD1L1"><ellipse cx="1517" cy="2090" rx="62" ry="31" class="nw"/><text class="lbl" x="1517" y="2101">PKHD1L1</text></g>
<g id="n-IFI16"><ellipse cx="1236" cy="2158" rx="62" ry="31" class="nw"/><text class="lbl" x="1236" y="2169">IFI16</text></g>
<g id="n-PTMA"><ellipse cx="1378" cy="2160" rx="62" ry="31" class="nc"/><text class="lbl" x="1378" y="2171">PTMA</text></g>
<g id="n-TFEB"><ellipse cx="1517" cy="2160" rx="62" ry="31" class="nw"/><text class="lbl" x="1517" y="2171">TFEB</text></g>

<g id="n-CTNNB1"><rect x="1524" y="1612" width="125" height="62" class="nw"/><text class="lbl" x="1586" y="1654">CTNNB1</text></g>
<g id="n-CTNNA1"><rect x="1657" y="1612" width="125" height="62" class="nw"/><text class="lbl" x="1719" y="1654">CTNNA1</text></g>
<g id="n-MCAM"><rect x="1590" y="1695" width="125" height="62" class="nc"/><text class="lbl" x="1652" y="1737">MCAM</text></g>

<g id="n-S100A13"><ellipse cx="2148" cy="1615" rx="62" ry="31" class="nr"/><text class="lbl" x="2148" y="1626">S100A13</text></g>
<g id="n-HSPB1"><rect x="2278" y="1584" width="125" height="62" class="nw"/><text class="lbl" x="2340" y="1626">HSPB1</text></g>
<g id="n-CANX"><ellipse cx="2488" cy="1615" rx="62" ry="31" class="nc"/><text class="lbl" x="2488" y="1626">CANX</text></g>
<g id="n-HSP90AB1"><ellipse cx="2489" cy="1516" rx="62" ry="31" class="nw"/><text class="lbl" x="2489" y="1527">HSP90AB1</text></g>
<g id="n-HSP90AA1"><use href="#hex" x="2668" y="1516" class="nw"/><text class="lbl" x="2668" y="1527">HSP90AA1</text></g>
<g id="n-HSP90B1"><ellipse cx="2836" cy="1516" rx="62" ry="31" class="nw"/><text class="lbl" x="2836" y="1527">HSP90B1</text></g>
<g id="n-VCP"><ellipse cx="2668" cy="1614" rx="62" ry="31" class="nw"/><text class="lbl" x="2668" y="1625">VCP</text></g>
<g id="n-PPIA"><ellipse cx="2836" cy="1614" rx="62" ry="31" class="nw"/><text class="lbl" x="2836" y="1625">PPIA</text></g>
<g id="n-STIP1"><ellipse cx="2669" cy="1712" rx="62" ry="31" class="nc"/><text class="lbl" x="2669" y="1723">STIP1</text></g>

<g id="n-HERC5"><ellipse cx="2706" cy="1945" rx="62" ry="31" class="nw"/><text class="lbl" x="2706" y="1956">HERC5</text></g>
<g id="n-PSMA2"><ellipse cx="2634" cy="2011" rx="62" ry="31" class="nr"/><text class="lbl" x="2634" y="2022">PSMA2</text></g>
<g id="n-PSMD1"><ellipse cx="2765" cy="2011" rx="62" ry="31" class="nw"/><text class="lbl" x="2765" y="2022">PSMD1</text></g>
<g id="n-PSMA8"><ellipse cx="2634" cy="2075" rx="62" ry="31" class="nw"/><text class="lbl" x="2634" y="2086">PSMA8</text></g>
<g id="n-PSMC4"><ellipse cx="2769" cy="2075" rx="62" ry="31" class="nc"/><text class="lbl" x="2769" y="2086">PSMC4</text></g>

<g id="n-SOD2"><ellipse cx="1897" cy="2135" rx="62" ry="31" class="nr"/><text class="lbl" x="1897" y="2146">SOD2</text></g>
<g id="n-GSTP1"><ellipse cx="2028" cy="2135" rx="62" ry="31" class="nw"/><text class="lbl" x="2028" y="2146">GSTP1</text></g>
<g id="n-TGM2"><ellipse cx="2026" cy="2217" rx="62" ry="31" class="nw"/><text class="lbl" x="2026" y="2228">TGM2</text></g>

<g id="n-FLNA"><rect x="1758" y="2450" width="125" height="62" class="nw"/><text class="lbl" x="1820" y="2492">FLNA</text></g>
<g id="n-VIM"><ellipse cx="1954" cy="2481" rx="62" ry="31" class="nw"/><text class="lbl" x="1954" y="2492">VIM</text></g>
<g id="n-TUBA1B"><ellipse cx="2085" cy="2481" rx="62" ry="31" class="nw"/><text class="lbl" x="2085" y="2492">TUBA1B</text></g>
<g id="n-AKAP12"><ellipse cx="1683" cy="2555" rx="62" ry="31" class="nw"/><text class="lbl" x="1683" y="2566">AKAP12</text></g>
<g id="n-MYH9"><rect x="1758" y="2524" width="125" height="62" class="nw"/><text class="lbl" x="1820" y="2566">MYH9</text></g>
<g id="n-FLNB"><ellipse cx="1954" cy="2555" rx="62" ry="31" class="nw"/><text class="lbl" x="1954" y="2566">FLNB</text></g>
<g id="n-ZYX"><ellipse cx="2085" cy="2555" rx="62" ry="31" class="nr"/><text class="lbl" x="2085" y="2566">ZYX</text></g>
<g id="n-CLIC4"><rect x="1758" y="2598" width="125" height="62" class="nw"/><text class="lbl" x="1820" y="2640">CLIC4</text></g>
<g id="n-CFL1"><ellipse cx="1954" cy="2629" rx="62" ry="31" class="nr"/><text class="lbl" x="1954" y="2640">CFL1</text></g>
<g id="n-EZR"><ellipse cx="2085" cy="2629" rx="62" ry="31" class="nw"/><text class="lbl" x="2085" y="2640">EZR</text></g>

<g id="n-ANXA2"><rect x="2555" y="2489" width="125" height="62" class="nw"/><text class="lbl" x="2617" y="2531">ANXA2</text></g>
<g id="n-ANXA4"><ellipse cx="2455" cy="2597" rx="62" ry="31" class="nw"/><text class="lbl" x="2455" y="2608">ANXA4</text></g>
<g id="n-ANXA1"><use href="#hex" x="2619" y="2597" class="nw"/><text class="lbl" x="2619" y="2608">ANXA1</text></g>
<g id="n-P2RY1"><rect x="2824" y="2566" width="125" height="62" class="nw"/><text class="lbl" x="2886" y="2608">P2RY1</text></g>
<g id="n-PTGDR2"><ellipse cx="2454" cy="2725" rx="62" ry="31" class="nw"/><text class="lbl" x="2454" y="2736">PTGDR2</text></g>
</g>

<g id="group-labels">
<text class="grp" x="941" y="1592" textLength="458">Angiogenesis</text>
<text class="grp" x="693" y="2054" textLength="641">Protein translation</text>
<text class="grp" x="1656" y="1844" textLength="465">Cell adhesion</text>
<text class="grp" x="2457" y="1764" textLength="139">HSP</text>
<text class="grp" x="1376" y="2273" textLength="566">Immune system</text>
<text class="grp" x="1952" y="2073" textLength="509">Redox process</text>
<text class="grp" x="2707" y="2175" textLength="408">Proteasome</text>
<text class="grp" x="1027" y="2687" textLength="758">Energetic metabolism</text>
<text class="grp" x="1954" y="2737" textLength="452">Cytoskeleton</text>
<text class="grp" x="2777" y="2454" textLength="315">Annexins</text>
<text class="big" x="625" y="2866" font-size="89" textLength="815">INTRACELLULAR</text>
<text class="big" x="625" y="2995" font-size="89" textLength="819">EXTRACELLULAR</text>
</g>

<g id="legend-1">
<rect x="141" y="3134" width="1826" height="344" fill="#fff" stroke="#555" stroke-width="2.5"/>
<polygon points="231,3166 193,3212 269,3212" fill="#d2f7da"/>
<text class="leg" x="287" y="3199" textLength="1632">Extracellular proteins involved in ANGIOGENESIS and up-regulated in SARS-CoV-2 (Day 3) vs Mock (Day 3)</text>
<polygon points="231,3239 193,3285 269,3285" fill="#b2f0d2"/>
<text class="leg" x="287" y="3272" textLength="1630">Extracellular proteins involved in INFLAMMATION and up-regulated in SARS-CoV-2 (Day 3) vs Mock (Day 3)</text>
<polygon points="193,3336 207,3314 259,3314 273,3336 259,3358 207,3358" fill="#f00" class="ls"/>
<ellipse cx="340" cy="3336" rx="39" ry="23" fill="#f00" class="ls"/>
<rect x="394" y="3313" width="81" height="47" fill="#f00" class="ls"/>
<text class="leg" x="499" y="3348" textLength="1287">Intracellular identified proteins up-regulated in SARS-CoV-2 (Day 3) vs Mock (Day 3)</text>
<polygon points="193,3424 207,3402 259,3402 273,3424 259,3446 207,3446" fill="#0ff" class="ls"/>
<ellipse cx="340" cy="3424" rx="39" ry="23" fill="#0ff" class="ls"/>
<rect x="394" y="3401" width="81" height="47" fill="#0ff" class="ls"/>
<text class="leg" x="499" y="3435" textLength="1329">Intracellular identified proteins down-regulated in SARS-CoV-2 (Day 3) vs Mock (Day 3)</text>
</g>

<g id="legend-2">
<rect x="2050" y="3197" width="1205" height="242" fill="#fff" stroke="#555" stroke-width="2.5"/>
<rect x="2075" y="3223" width="80" height="48" fill="#fff" class="ls"/>
<text class="leg" x="2198" y="3257" textLength="736">Intracellular proteins involved in ANGIOGENESIS</text>
<ellipse cx="2115" cy="3319" rx="40" ry="24" fill="#fff" class="ls"/>
<text class="leg" x="2198" y="3329" textLength="735">Intracellular proteins involved in INFLAMMATION</text>
<polygon points="2075,3392 2089,3371 2141,3371 2155,3392 2141,3414 2089,3414" fill="#fff" class="ls"/>
<text class="leg" x="2198" y="3402" textLength="1034">Intracellular proteins involved in both ANGIOGENSIS/NFLAMMATION</text>
</g>
</svg>
